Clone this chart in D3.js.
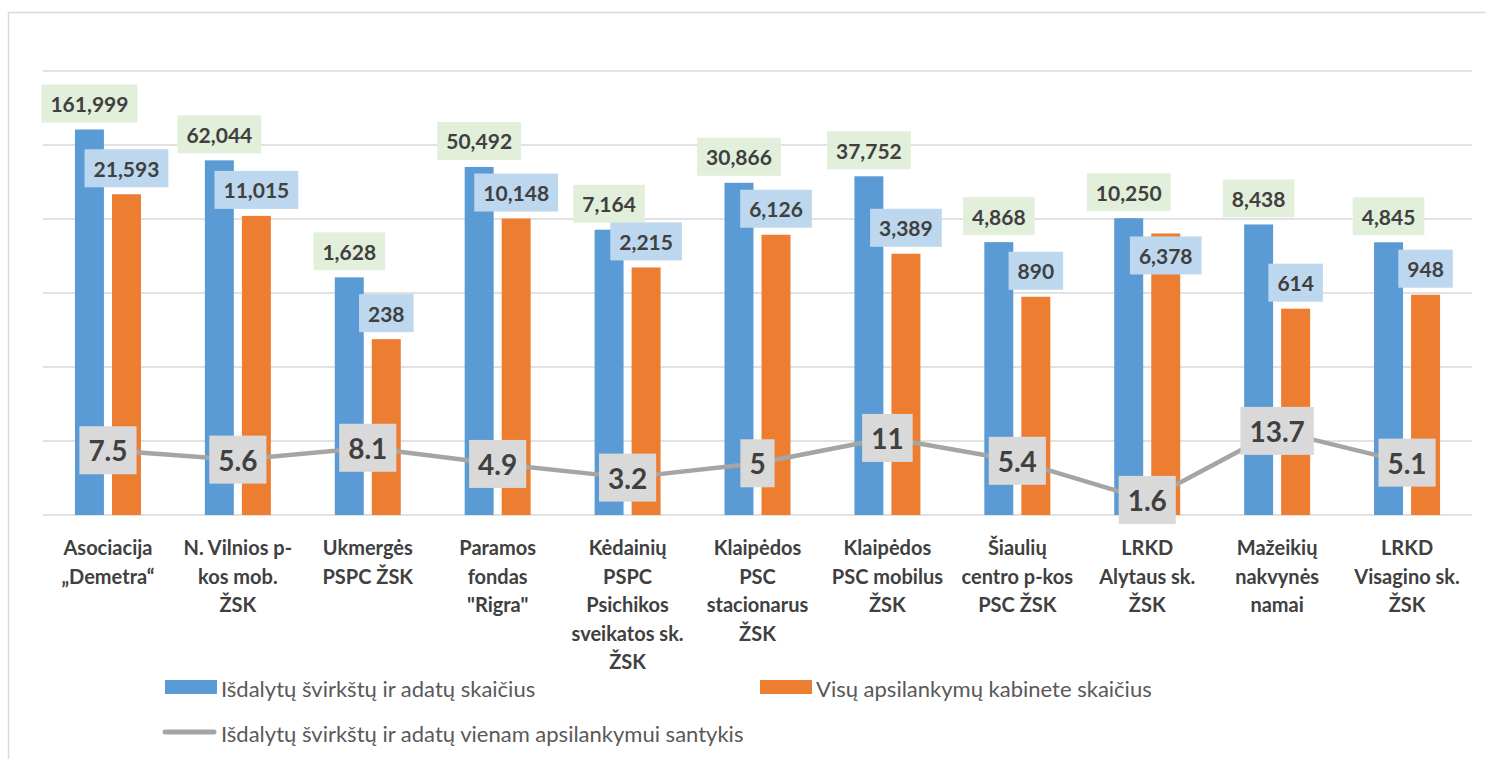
<!DOCTYPE html>
<html>
<head>
<meta charset="utf-8">
<script src="https://cdn.jsdelivr.net/npm/d3@7"></script>
<style>
  html, body { margin: 0; padding: 0; background: #fff; }
  svg { display: block; font-family: Lato, "Open Sans", sans-serif; }
</style>
</head>
<body>
<svg id="chart" width="1486" height="759"></svg>
<script>
const categories = [
  "Asociacija\n„Demetra“",
  "N. Vilnios p-\nkos mob.\nŽSK",
  "Ukmergės\nPSPC ŽSK",
  "Paramos\nfondas\n\"Rigra\"",
  "Kėdainių\nPSPC\nPsichikos\nsveikatos sk.\nŽSK",
  "Klaipėdos\nPSC\nstacionarus\nŽSK",
  "Klaipėdos\nPSC mobilus\nŽSK",
  "Šiaulių\ncentro p-kos\nPSC ŽSK",
  "LRKD\nAlytaus sk.\nŽSK",
  "Mažeikių\nnakvynės\nnamai",
  "LRKD\nVisagino sk.\nŽSK"
];
const syringes = [161999, 62044, 1628, 50492, 7164, 30866, 37752, 4868, 10250, 8438, 4845];
const visits = [21593, 11015, 238, 10148, 2215, 6126, 3389, 890, 6378, 614, 948];
const ratio = [7.5, 5.6, 8.1, 4.9, 3.2, 5, 11, 5.4, 1.6, 13.7, 5.1];
const seriesNames = [
  "Išdalytų švirkštų ir adatų skaičius",
  "Visų apsilankymų kabinete skaičius",
  "Išdalytų švirkštų ir adatų vienam apsilankymui santykis"
];
const gridTicks = [1, 10, 100, 1000, 10000, 100000, 1000000];

const colors = { blue: "#5B9BD5", orange: "#ED7D31", gray: "#A5A5A5" };
const svg = d3.select("#chart");

// outer chart border
svg.append("path")
  .attr("d", "M8.5,800 L8.5,12.5 L1500,12.5")
  .attr("fill", "none").attr("stroke", "#D9D9D9").attr("stroke-width", 1.5);

const x = d3.scaleBand().domain(categories).range([43, 1472]).paddingInner(0).paddingOuter(0);
const y = d3.scaleLog().domain([1, 1000000]).range([515, 71]);

const bw = x.bandwidth();
const barW = bw * 0.223;
const innerGap = bw * 0.062;
const blueX = c => x(c) + bw / 2 - innerGap / 2 - barW;
const orangeX = c => x(c) + bw / 2 + innerGap / 2;

// gridlines
svg.append("g").selectAll("line").data(gridTicks).join("line")
  .attr("x1", 43).attr("x2", 1472)
  .attr("y1", d => y(d)).attr("y2", d => y(d))
  .attr("stroke", "#D9D9D9").attr("stroke-width", 1.5);

// bars
svg.append("g").selectAll("rect").data(categories).join("rect")
  .attr("x", c => blueX(c)).attr("width", barW)
  .attr("y", (c, i) => y(syringes[i])).attr("height", (c, i) => y(1) - y(syringes[i]))
  .attr("fill", colors.blue);
svg.append("g").selectAll("rect").data(categories).join("rect")
  .attr("x", c => orangeX(c)).attr("width", barW)
  .attr("y", (c, i) => y(visits[i])).attr("height", (c, i) => y(1) - y(visits[i]))
  .attr("fill", colors.orange);

// line
const line = d3.line().x((d, i) => x(categories[i]) + bw / 2).y(d => y(d));
svg.append("path").datum(ratio).attr("d", line)
  .attr("fill", "none").attr("stroke", colors.gray).attr("stroke-width", 4.5)
  .attr("stroke-linejoin", "round").attr("stroke-linecap", "round");

// category axis labels
const axisG = svg.append("g");
categories.forEach(c => {
  const lines = c.split("\n");
  const t = axisG.append("text")
    .attr("x", x(c) + bw / 2).attr("y", 555)
    .attr("text-anchor", "middle").attr("font-size", 20).attr("font-weight", 700)
    .attr("fill", "#404040");
  lines.forEach((l, k) => {
    t.append("tspan").attr("x", x(c) + bw / 2).attr("y", 555 + k * 28.5).text(l);
  });
});

// label helper
const fmt = d3.format(",");
function makeLabel(g, cx, cy, text, fs, bg, padX, h) {
  const grp = g.append("g");
  const rect = grp.append("rect").attr("fill", bg);
  const t = grp.append("text").attr("x", cx).attr("y", cy)
    .attr("text-anchor", "middle").attr("dominant-baseline", "central")
    .attr("font-size", fs).attr("font-weight", 700).attr("fill", "#404040").text(text);
  const w = t.node().getComputedTextLength() + 2 * padX;
  rect.attr("x", cx - w / 2).attr("y", cy - h / 2).attr("width", w).attr("height", h);
  return { grp, rect, t, x0: cx - w / 2, x1: cx + w / 2, y0: cy - h / 2, y1: cy + h / 2 };
}

// line labels
const lineLabG = svg.append("g");
ratio.forEach((v, i) => {
  makeLabel(lineLabG, x(categories[i]) + bw / 2, y(v), String(v), 28, "#D9D9D9", 9, 48);
});

// bar labels
const barLabG = svg.append("g");
const LH = 38, GAP = 7;
categories.forEach((c, i) => {
  const gTop = y(syringes[i]);
  const g = makeLabel(barLabG, blueX(c) + barW / 2, gTop - GAP - LH / 2, fmt(syringes[i]), 21, "#E2EFDA", 9, LH);
  const oTop = y(visits[i]);
  const o = makeLabel(barLabG, orangeX(c) + barW / 2, oTop - GAP - LH / 2, fmt(visits[i]), 21, "#BDD7EE", 9, LH);
  // avoid a real overlap with the neighbouring label: move inside the bar end
  const tol = 4;
  if (o.x0 < g.x1 - tol && o.y0 < g.y1 - tol && o.y1 > g.y0 + tol) {
    const ny = oTop + 3 + LH / 2;
    o.rect.attr("y", ny - LH / 2);
    o.t.attr("y", ny);
  }
});

// legend
const leg = svg.append("g").attr("font-size", 22).attr("fill", "#595959");
leg.append("rect").attr("x", 165).attr("y", 680).attr("width", 52).attr("height", 14).attr("fill", colors.blue);
leg.append("text").attr("x", 221).attr("y", 688).attr("dominant-baseline", "central").text(seriesNames[0]);
leg.append("rect").attr("x", 760).attr("y", 680).attr("width", 52).attr("height", 14).attr("fill", colors.orange);
leg.append("text").attr("x", 816).attr("y", 688).attr("dominant-baseline", "central").text(seriesNames[1]);
leg.append("line").attr("x1", 165).attr("x2", 214).attr("y1", 732).attr("y2", 732)
  .attr("stroke", colors.gray).attr("stroke-width", 5).attr("stroke-linecap", "round");
leg.append("text").attr("x", 221).attr("y", 733).attr("dominant-baseline", "central").text(seriesNames[2]);
</script>
</body>
</html>
